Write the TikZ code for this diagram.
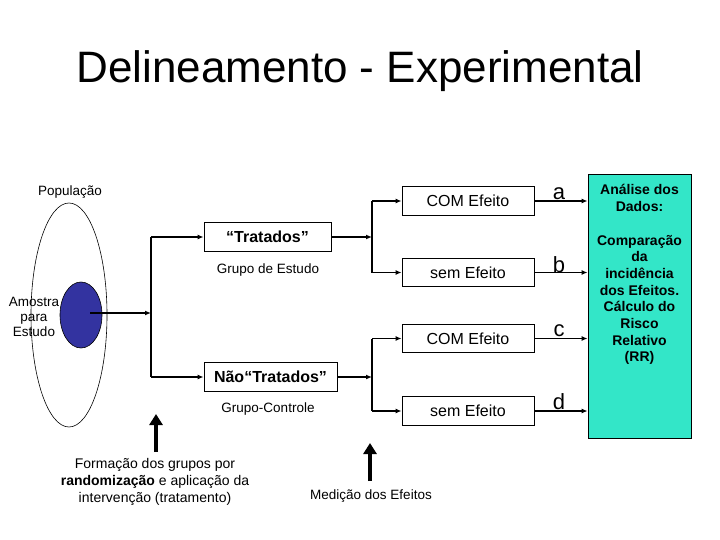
\documentclass[tikz,border=0pt]{standalone}
\usepackage{fontspec}
\setmainfont{Liberation Sans}
\usetikzlibrary{arrows.meta,shapes.geometric}
\definecolor{blueS}{HTML}{3333A0}
\definecolor{greenB}{HTML}{33E6C8}
\begin{document}
\begin{tikzpicture}[x=1pt,y=-1pt,
  box/.style={draw, line width=0.8pt, inner sep=0pt, minimum width=132pt, minimum height=28.5pt, font=\fontsize{16}{18}\selectfont},
  grp/.style={draw, line width=0.8pt, inner sep=0pt, minimum height=29pt, font=\bfseries\fontsize{16}{18}\selectfont},
  conn/.style={line width=1.6pt, -{Latex[length=6pt,width=5pt]}},
  plain/.style={line width=1.6pt},
  lab/.style={font=\fontsize{13.5}{16.5}\selectfont, align=center, inner sep=0pt},
  letter/.style={font=\fontsize{22}{24}\selectfont, inner sep=0pt},
  bigup/.style={line width=4pt, -{Triangle[length=11pt,width=13pt]}}
]
\useasboundingbox (0,0) rectangle (720,540);
\fill[white] (0,0) rectangle (720,540);

% title
\node[anchor=base, inner sep=0pt, font=\fontsize{44}{48}\selectfont] (title) at (360,83) {Delineamento - Experimental};

% population ellipse
\node[draw, line width=0.6pt, ellipse, minimum width=76pt, minimum height=224pt, inner sep=0pt] (pop) at (69,315) {};
\node[lab] (poplab) at (70,192) {População};
\node[draw, line width=0.6pt, fill=blueS, ellipse, minimum width=42pt, minimum height=66pt, inner sep=0pt] (amo) at (81,315) {};
\node[lab, font=\fontsize{13.5}{15}\selectfont] (amolab) at (34,317) {Amostra\\para\\Estudo};

% groups
\node[grp, minimum width=127pt] (trat) at (267.5,237) {“Tratados”};
\node[lab] (est) at (268,270) {Grupo de Estudo};
\node[grp, minimum width=133pt] (naot) at (270.5,377) {Não“Tratados”};
\node[lab] (ctrl) at (268,409) {Grupo-Controle};

% left junction
\coordinate (s) at (90,313);
\coordinate (v1) at (151,313);
\coordinate (jt) at (151,237);
\coordinate (jn) at (151,377);
\draw[conn] (s) -- (v1);
\draw[plain] (jt) -- (jn);
\draw[conn] (jt) -- (trat.west);
\draw[conn] (jn) -- (naot.west);

% effect boxes
\node[box] (c1) at (468,201) {COM Efeito};
\node[box] (s1) at (468,272.5) {sem Efeito};
\node[box] (c2) at (468,338.5) {COM Efeito};
\node[box] (s2) at (468,411) {sem Efeito};

% right junctions
\coordinate (k1) at (372,237);
\coordinate (k1t) at (372,201);
\coordinate (k1b) at (372,272.5);
\coordinate (k2) at (372,377);
\coordinate (k2t) at (372,338.5);
\coordinate (k2b) at (372,411);
\draw[conn] (trat.east) -- (k1);
\draw[plain] (k1t) -- (k1b);
\draw[conn] (k1t) -- (c1.west);
\draw[conn] (k1b) -- (s1.west);
\draw[conn] (naot.east) -- (k2);
\draw[plain] (k2t) -- (k2b);
\draw[conn] (k2t) -- (c2.west);
\draw[conn] (k2b) -- (s2.west);

% analysis box
\node[draw, line width=0.8pt, fill=greenB, minimum width=103pt, minimum height=264pt, inner sep=0pt] (ana) at (639.5,306) {};
\node[anchor=north, align=center, inner sep=0pt, font=\bfseries\fontsize{14}{16.7}\selectfont] (anatxt) at (639.5,184.5)
  {Análise dos\\Dados:\\[16.7pt]Comparação\\da\\incidência\\dos Efeitos.\\Cálculo do\\Risco\\Relativo\\(RR)};

\draw[conn] (c1.east) -- (c1.east -| ana.west);
\draw[conn] (s1.east) -- (s1.east -| ana.west);
\draw[conn] (c2.east) -- (c2.east -| ana.west);
\draw[conn] (s2.east) -- (s2.east -| ana.west);
\node[letter] (la) at (559,194) {a};
\node[letter] (lb) at (559,265) {b};
\node[letter] (lc) at (559,331) {c};
\node[letter] (ld) at (559,402) {d};

% bottom arrows and captions
\coordinate (u1b) at (156,452);
\coordinate (u1t) at (156,414);
\coordinate (u2b) at (370,481);
\coordinate (u2t) at (370,443);
\draw[bigup] (u1b) -- (u1t);
\draw[bigup] (u2b) -- (u2t);
\node[lab, font=\fontsize{14}{16.7}\selectfont] (cap1) at (155,482) {Formação dos grupos por\\\textbf{randomização} e aplicação da\\intervenção (tratamento)};
\node[lab] (cap2) at (371,496) {Medição dos Efeitos};
\end{tikzpicture}
\end{document}
